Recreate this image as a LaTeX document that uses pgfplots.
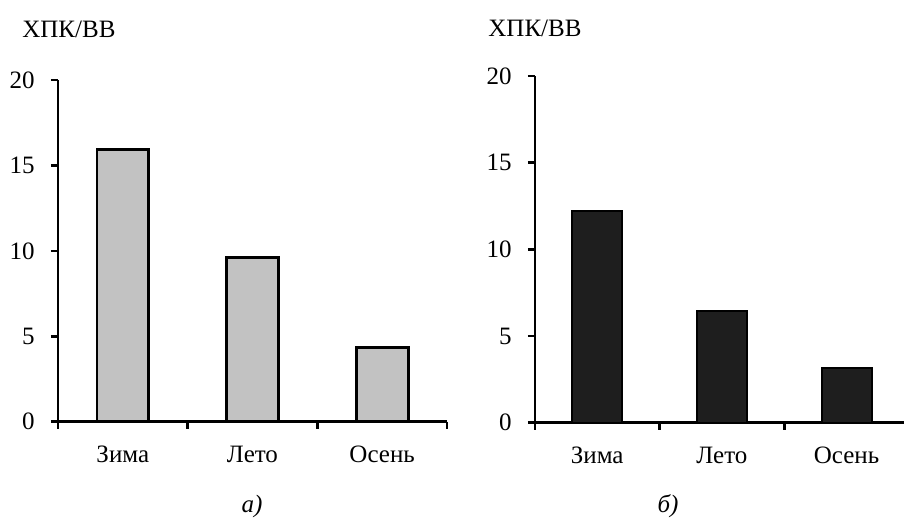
\documentclass[border=0pt]{standalone}
\usepackage{fontspec}
\setmainfont{Liberation Serif}
\usepackage{pgfplots}
\pgfplotsset{compat=1.18}
\definecolor{lightbar}{HTML}{C2C2C2}
\definecolor{darkbar}{HTML}{1E1E1E}
\pgfplotsset{
  mychart/.style={
    scale only axis,
    anchor=south west,
    axis x line*=bottom,
    axis y line*=left,
    xtick pos=bottom,
    ytick pos=left,
    axis line style={-, line width=1.3pt},
    xmin=-0.5,
    ymin=0, ymax=20,
    ytick={0,5,10,15,20},
    xtick={-0.5,0.5,1.5,2.5},
    xticklabels={Зима,Лето,Осень,},
    tick align=outside,
    major tick length=3.6pt,
    ytick style={draw=black, line width=1.3pt},
    xtick style={draw=black, line width=1.3pt},
    tick label style={font=\fontsize{12.5}{15}\selectfont},
    /pgf/number format/assume math mode=true,
    yticklabel style={xshift=-4.5pt},
    xticklabel style={anchor=base, yshift=-17pt},
    clip=false,
  }
}
\begin{document}
\begin{tikzpicture}
\useasboundingbox (0,0) rectangle (452pt,261.5pt);
\begin{axis}[mychart, at={(29pt,50.65pt)}, width=194.5pt, height=170.85pt, xmax=2.5,
  xticklabel style={xshift=32.4pt}]
\addplot[ybar, bar width=0.4, draw=black, line width=1.4pt, fill=lightbar] coordinates {(0,15.95) (1,9.62) (2,4.33)};
\end{axis}
\begin{axis}[mychart, at={(267.5pt,50.15pt)}, width=184.5pt, height=173.35pt, xmax=2.46,
  xtick={-0.5,0.5,1.5}, xticklabels={Зима,Лето,Осень},
  xticklabel style={xshift=31.1pt}]
\addplot[ybar, bar width=0.4, draw=black, line width=1.0pt, fill=darkbar] coordinates {(0,12.2) (1,6.45) (2,3.17)};
\end{axis}
\node[anchor=base west, inner sep=0, font=\fontsize{12.5}{15}\selectfont] at (11pt,242.5pt) {ХПК/ВВ};
\node[anchor=base west, inner sep=0, font=\fontsize{12.5}{15}\selectfont] at (244pt,243pt) {ХПК/ВВ};
\node[anchor=base, inner sep=0, font=\fontsize{12.5}{15}\selectfont\itshape] at (126pt,5pt) {а)};
\node[anchor=base, inner sep=0, font=\fontsize{12.5}{15}\selectfont\itshape] at (334pt,5pt) {б)};
\end{tikzpicture}
\end{document}
